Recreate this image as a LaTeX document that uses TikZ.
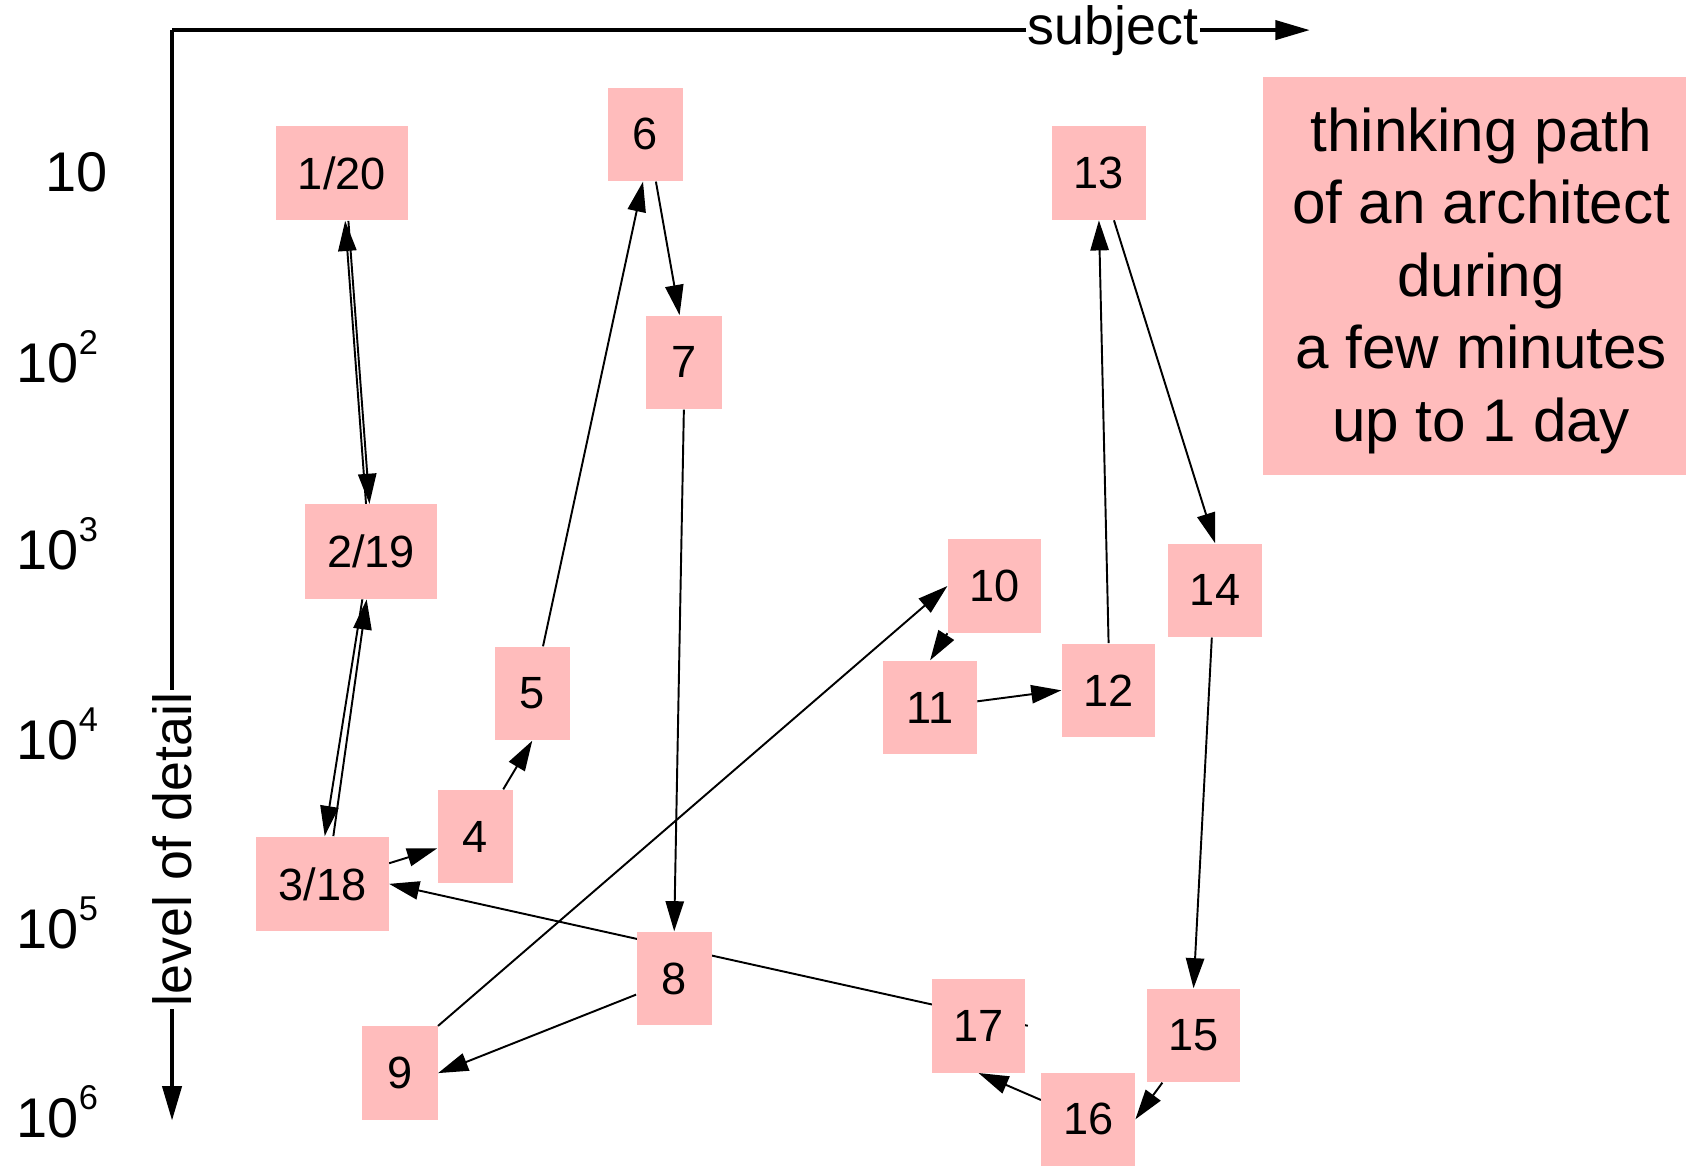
\documentclass[tikz,border=0pt]{standalone}
\usepackage{fontspec}
\setmainfont{Liberation Sans}
\usetikzlibrary{arrows.meta,backgrounds}
\definecolor{pinkbox}{RGB}{255,188,188}
\begin{document}
\begin{tikzpicture}[x=0.5pt,y=-0.5pt,
  box/.style={fill=pinkbox,inner sep=0pt,font=\fontsize{21}{25}\selectfont},
  sbox/.style={box,minimum width=35pt,minimum height=43.5pt},
  mbox/.style={box,minimum width=43.5pt,minimum height=43.5pt},
  wbox/.style={box,minimum width=61.5pt,minimum height=44pt},
  edge/.style={line width=0.9pt,-{Triangle[length=14pt,width=8.5pt]}},
  axis/.style={line width=1.5pt,-{Triangle[length=16pt,width=9pt]}},
  tick/.style={anchor=base west,inner sep=0pt,font=\fontsize{26}{30}\selectfont},
  axlabel/.style={fill=white,inner sep=1pt,font=\fontsize{25}{30}\selectfont}]
\useasboundingbox (0,0) rectangle (1568,1085);

% axes
\coordinate (o) at (160,28);
\coordinate (xend) at (1218,28);
\coordinate (yend) at (160,1042);

% tick labels
\node[tick] (t1) at (42,178) {10};
\node[tick] (t2) at (15,356) {10\raisebox{13pt}{\fontsize{16}{16}\selectfont 2}};
\node[tick] (t3) at (15,530) {10\raisebox{13pt}{\fontsize{16}{16}\selectfont 3}};
\node[tick] (t4) at (15,706) {10\raisebox{13pt}{\fontsize{16}{16}\selectfont 4}};
\node[tick] (t5) at (15,882) {10\raisebox{13pt}{\fontsize{16}{16}\selectfont 5}};
\node[tick] (t6) at (15,1058) {10\raisebox{13pt}{\fontsize{16}{16}\selectfont 6}};

% nodes
\node[wbox] (n1)  at (318,161)  {1/20};
\node[sbox] (n6)  at (600,125)  {6};
\node[mbox] (n13) at (1022,161) {13};
\node[sbox] (n7)  at (636,337)  {7};
\node[wbox] (n2)  at (345,513)  {2/19};
\node[mbox] (n10) at (925,545)  {10};
\node[mbox] (n14) at (1130,549) {14};
\node[sbox] (n5)  at (495,645)  {5};
\node[mbox] (n11) at (865,658)  {11};
\node[mbox] (n12) at (1031,642) {12};
\node[sbox] (n4)  at (442,778)  {4};
\node[wbox] (n3)  at (300,822)  {3/18};
\node[sbox] (n8)  at (627,910)  {8};
\node[mbox] (n17) at (910,954)  {17};
\node[mbox] (n15) at (1110,963) {15};
\node[sbox] (n9)  at (372,998)  {9};
\node[mbox] (n16) at (1012,1041) {16};

\node[fill=pinkbox,inner sep=0pt,minimum width=196.5pt,minimum height=185pt] (info) at (1371.5,257) {};
\node[inner sep=0pt,align=center,font=\fontsize{28}{33.75}\selectfont] (infotext)
  at ([xshift=3pt,yshift=-2pt]info.center)
  {thinking path\\of an architect\\during\\a few minutes\\up to 1 day};

\node[axlabel] (subj) at (1035,28) {subject};
\node[axlabel,rotate=90] (lod) at (160,790) {level of detail};

\begin{pgfonlayer}{background}
\draw[axis] (o) -- (xend);
\draw[axis] (o) -- (yend);

\draw[edge] ([xshift=3pt]n1.south) -- ([xshift=-0.7pt]n2.north);
\draw[edge] ([xshift=-4pt]n2.south) -- ([xshift=1pt]n3.north);
\draw[edge] (n3) -- (n4);
\draw[edge] ([xshift=13pt]n4.north) -- (n5.south);
\draw[edge] ([xshift=5pt]n5.north) -- ([xshift=-1pt]n6.south);
\draw[edge] ([xshift=5pt]n6.south) -- ([xshift=-2pt]n7.north);
\draw[edge] (n7.south) -- (n8.north);
\draw[edge] ([yshift=-7.5pt]n8.west) -- (n9.east);
\draw[edge] (n9.north east) -- (n10.west);
\draw[edge] (n10.south west) -- (n11.north);
\draw[edge] (n11) -- (n12.west);
\draw[edge] (n12.north) -- (n13.south);
\draw[edge] ([xshift=7pt]n13.south) -- (n14.north);
\draw[edge] ([xshift=-1.5pt]n14.south) -- (n15.north);
\draw[edge] ([xshift=-14.5pt]n15.south) -- (n16.east);
\draw[edge] ([yshift=9pt]n16.west) -- (n17.south);
\draw[edge] ([xshift=1pt]n17.east) -- (n3.east);
\draw[edge] ([xshift=5pt]n3.north) -- ([xshift=-2pt]n2.south);
\draw[edge] ([xshift=-2.3pt]n2.north) -- ([xshift=1.5pt]n1.south);
\end{pgfonlayer}
\end{tikzpicture}
\end{document}
